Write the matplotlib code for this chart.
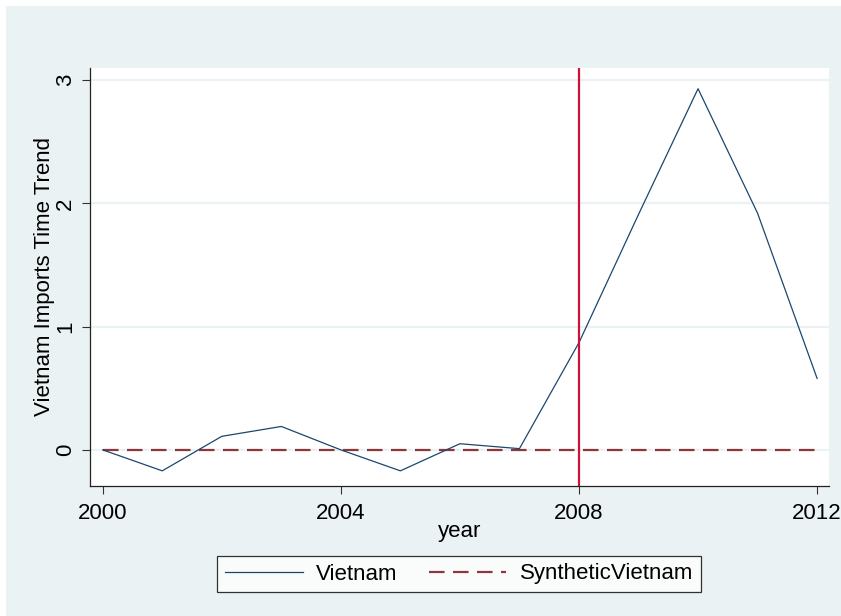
import matplotlib
matplotlib.use("Agg")
import matplotlib.pyplot as plt
from matplotlib.patches import Rectangle

plt.rcParams['font.family'] = ['Liberation Sans', 'DejaVu Sans']

years = [2000, 2001, 2002, 2003, 2004, 2005, 2006, 2007, 2008, 2009, 2010, 2011, 2012]
vietnam = [0.0, -0.17, 0.11, 0.19, 0.0, -0.17, 0.05, 0.01, 0.87, 1.91, 2.93, 1.92, 0.58]
synthetic = [0.0] * len(years)
treat_year = 2008

bg = '#EAF2F3'
W, H = 841, 616
fig = plt.figure(figsize=(W / 100, H / 100), dpi=100)
fig.patch.set_facecolor('white')
fig.add_artist(Rectangle((6 / W, 0), 1, 1 - 6 / H, transform=fig.transFigure,
                         facecolor=bg, edgecolor='none', zorder=-10))

ax = fig.add_axes([90 / W, 1 - 486 / H, (829 - 90) / W, (486 - 68) / H])
ax.set_facecolor('white')

ax.grid(axis='y', color=bg, linewidth=1.6, zorder=0)
ax.plot(years, vietnam, color='#1A476F', linewidth=0.9, label='Vietnam', zorder=3)
ax.plot(years, synthetic, color='#90353B', linewidth=1.6, dashes=(7, 3.8),
        label='SyntheticVietnam', zorder=2)
ax.axvline(treat_year, color='#D0103A', linewidth=1.6, zorder=4)

ax.set_xlim(1999.786, 2012.2)
ax.set_ylim(-0.293, 3.098)
ax.set_xticks([2000, 2004, 2008, 2012])
ax.set_yticks([0, 1, 2, 3])
ax.tick_params(axis='both', labelsize=16, length=6, width=0.8, color='#333333', pad=6)
ax.tick_params(axis='y', pad=4)
for lbl in ax.get_yticklabels():
    lbl.set_rotation(90)
    lbl.set_va('center')

for s in ['top', 'right']:
    ax.spines[s].set_visible(False)
for s in ['left', 'bottom']:
    ax.spines[s].set_color('#222222')
    ax.spines[s].set_linewidth(0.9)

ax.set_xlabel('year', fontsize=16, labelpad=-2)
ax.set_ylabel('Vietnam Imports Time Trend', fontsize=16, labelpad=0)

leg = fig.legend(loc='center', bbox_to_anchor=(459 / W, 1 - 574 / H), ncol=2,
                 fontsize=16, frameon=True, fancybox=False, handlelength=3.5,
                 handletextpad=0.6, columnspacing=1.4, borderpad=0.35)
leg.get_frame().set_edgecolor('black')
leg.get_frame().set_facecolor('white')
leg.get_frame().set_linewidth(0.9)

fig.savefig('out.png', dpi=100)
